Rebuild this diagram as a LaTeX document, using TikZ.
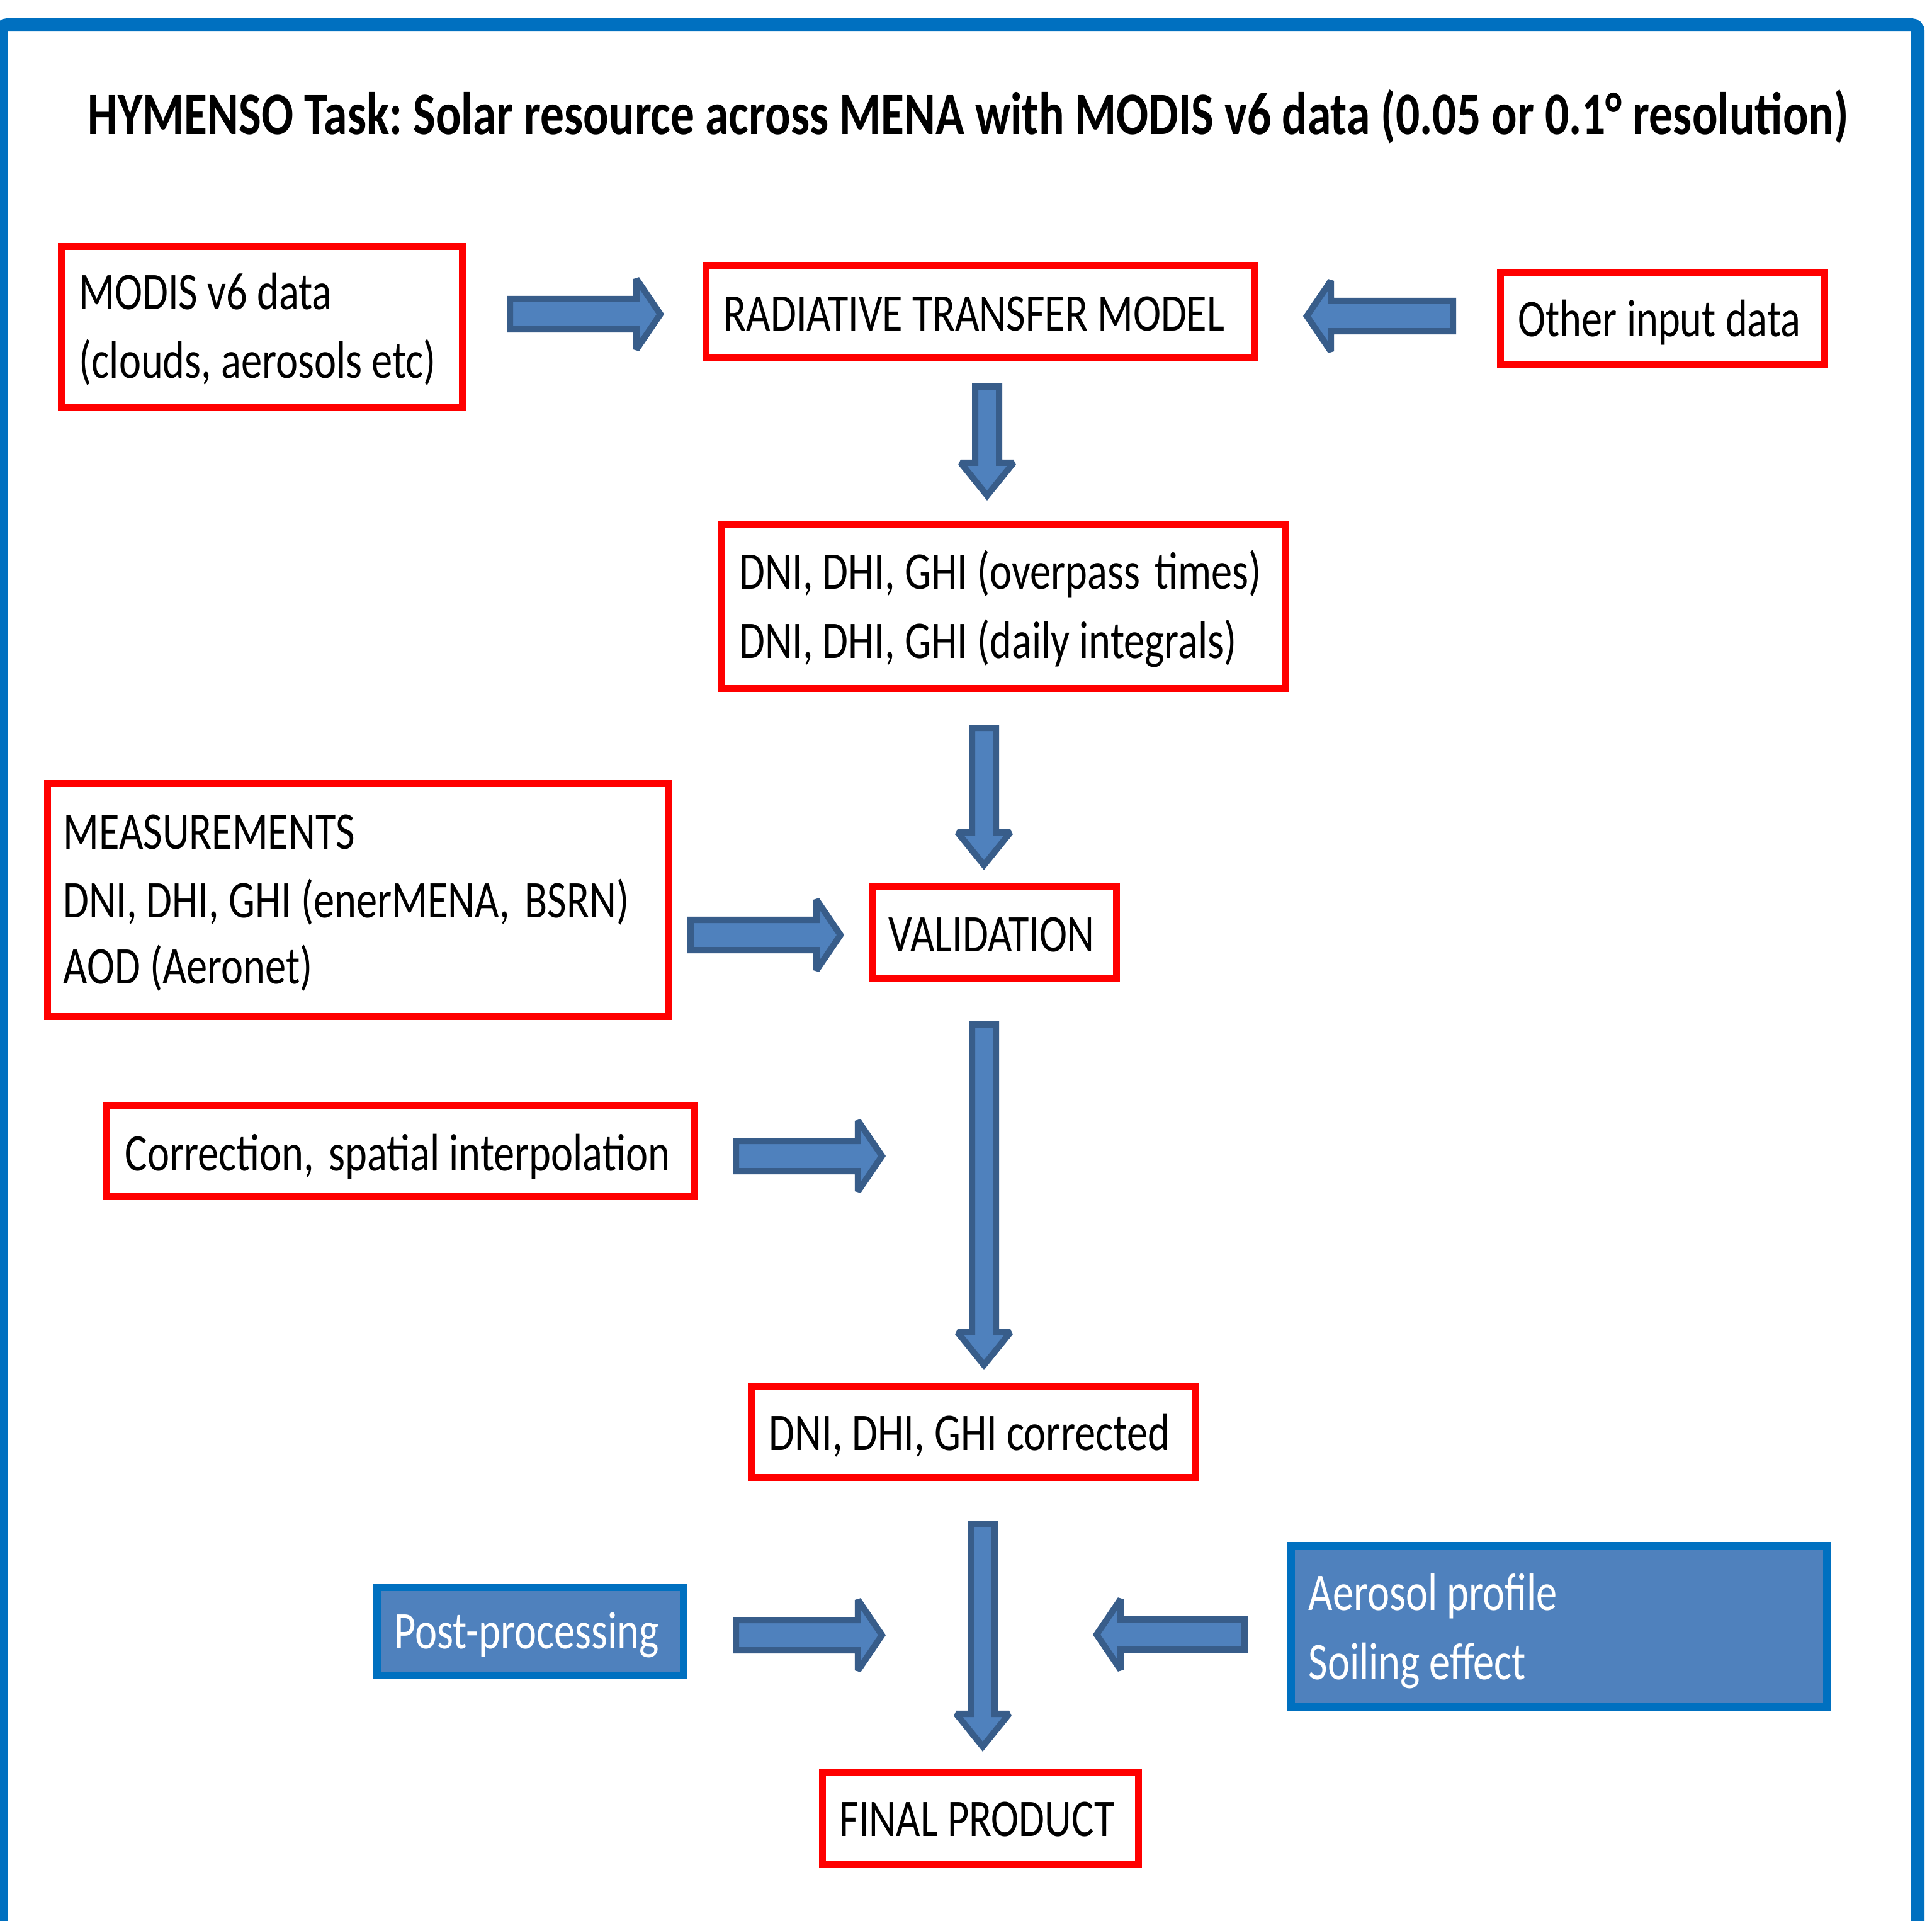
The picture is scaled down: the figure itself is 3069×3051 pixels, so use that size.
\documentclass[tikz,border=0pt]{standalone}
\usepackage{fontspec}
\setmainfont{Carlito}[FakeStretch=0.79]
\usetikzlibrary{calc}
\frenchspacing
\definecolor{framecol}{HTML}{0070C0}
\definecolor{arrfill}{HTML}{4F81BD}
\definecolor{arrline}{HTML}{385D8A}
\definecolor{boxred}{HTML}{FF0000}
\tikzset{
  redbox/.style={draw=boxred, line width=0.11cm, fill=white, inner sep=0pt, rectangle},
  bluebox/.style={draw=framecol, line width=0.12cm, fill=arrfill, inner sep=0pt, rectangle},
  txt/.style={inner sep=0pt, anchor=base west, font=\fontsize{23.9pt}{31pt}\selectfont},
  wtxt/.style={txt, text=white},
  blockarr/.style={draw=arrline, fill=arrfill, line width=0.10cm, line join=miter, miter limit=2.2},
}
\newcommand\wsp{\ \hspace{0.1em}}
% block arrow from #1 to #2: shaft half width #3, head half width #4, head length #5
\newcommand\blockarrow[5]{%
  \coordinate (ba-h) at ($(#2)!#5!(#1)$);
  \draw[blockarr] ($(#1)!#3!90:(#2)$) -- ($(ba-h)!#3!90:(#2)$) -- ($(ba-h)!#4!90:(#2)$)
    -- (#2) -- ($(ba-h)!#4!-90:(#2)$) -- ($(ba-h)!#3!-90:(#2)$) -- ($(#1)!#3!-90:(#2)$) -- cycle;}
\begin{document}
\begin{tikzpicture}[x=0.01cm, y=-0.01cm]
\useasboundingbox (0,0) rectangle (3069,3051);
\begin{scope}
\clip (0,0) rectangle (3069,3051);
\fill[white] (0,0) rectangle (3069,3051);
\draw[framecol, line width=0.21cm, rounded corners=0.1cm] (1.5,3120) -- (1.5,39.5) -- (3046.5,39.5) -- (3046.5,3120);
\end{scope}

% title
\node[inner sep=0pt, anchor=base, font=\fontsize{27.2pt}{33pt}\selectfont\bfseries] (title) at (1538,213)
  {HYMENSO Task: Solar resource across MENA with MODIS v6 data (0.05 or 0.1° resolution)};

% boxes
\node[redbox, minimum width=6.37cm, minimum height=2.55cm] (modis) at (416,519) {};
\node[txt] (modis-a) at (125,491) {MODIS v6 data};
\node[txt] (modis-b) at (125,600) {(clouds, aerosols etc)};

\node[redbox, minimum width=8.71cm, minimum height=1.47cm] (rtm) at (1557,495) {};
\node[txt] (rtm-a) at (1149,525) {RADIATIVE TRANSFER MODEL};

\node[redbox, minimum width=5.15cm, minimum height=1.47cm] (other) at (2641,506) {};
\node[txt] (other-a) at (2411,534) {Other input data};

\node[redbox, minimum width=8.95cm, minimum height=2.61cm] (dni) at (1594,963) {};
\node[txt] (dni-a) at (1174,935) {DNI, DHI, GHI (overpass\wsp times)};
\node[txt] (dni-b) at (1174,1045) {DNI, DHI, GHI (daily integrals)};

\node[redbox, minimum width=9.86cm, minimum height=3.70cm] (meas) at (568.5,1429.5) {};
\node[txt] (meas-a) at (100,1348) {MEASUREMENTS};
\node[txt] (meas-b) at (100,1457) {DNI, DHI, GHI (enerMENA,\wsp BSRN)};
\node[txt] (meas-c) at (100,1562) {AOD (Aeronet)};

\node[redbox, minimum width=3.88cm, minimum height=1.46cm] (val) at (1579.5,1481.5) {};
\node[txt] (val-a) at (1411,1511) {VALIDATION};

\node[redbox, minimum width=9.33cm, minimum height=1.45cm] (corr) at (636,1828) {};
\node[txt] (corr-a) at (198,1859) {Correction,\wsp spatial interpolation};

\node[redbox, minimum width=7.05cm, minimum height=1.45cm] (cor2) at (1546,2274) {};
\node[txt] (cor2-a) at (1221,2303) {DNI, DHI, GHI corrected};

\node[bluebox, minimum width=4.87cm, minimum height=1.40cm] (post) at (842.5,2591) {};
\node[wtxt] (post-a) at (626,2618) {Post-processing};

\node[bluebox, minimum width=8.51cm, minimum height=2.56cm] (aer) at (2476.5,2583) {};
\node[wtxt] (aer-a) at (2078,2557) {Aerosol profile};
\node[wtxt] (aer-b) at (2078,2667) {Soiling effect};

\node[redbox, minimum width=5.02cm, minimum height=1.46cm] (final) at (1557.5,2888.5) {};
\node[txt] (final-a) at (1333,2916) {FINAL PRODUCT};

% block arrows
\coordinate (a1s) at (810,499);   \coordinate (a1e) at (1049,499);
\coordinate (a2s) at (2308,502);  \coordinate (a2e) at (2076,502);
\coordinate (a3s) at (1097,1485); \coordinate (a3e) at (1335,1485);
\coordinate (a4s) at (1169,1836); \coordinate (a4e) at (1401,1836);
\coordinate (a5s) at (1169,2597); \coordinate (a5e) at (1401,2597);
\coordinate (a6s) at (1977,2596); \coordinate (a6e) at (1742,2596);
\blockarrow{a1s}{a1e}{0.24cm}{0.56cm}{0.38cm}
\blockarrow{a2s}{a2e}{0.24cm}{0.56cm}{0.38cm}
\blockarrow{a3s}{a3e}{0.24cm}{0.56cm}{0.38cm}
\blockarrow{a4s}{a4e}{0.24cm}{0.56cm}{0.38cm}
\blockarrow{a5s}{a5e}{0.24cm}{0.56cm}{0.38cm}
\blockarrow{a6s}{a6e}{0.24cm}{0.56cm}{0.38cm}

\coordinate (d1s) at (1568,614);  \coordinate (d1e) at (1568,787);
\coordinate (d2s) at (1563,1156); \coordinate (d2e) at (1563,1374);
\coordinate (d3s) at (1563,1627); \coordinate (d3e) at (1563,2168);
\coordinate (d4s) at (1561,2420); \coordinate (d4e) at (1561,2774);
\blockarrow{d1s}{d1e}{0.19cm}{0.42cm}{0.52cm}
\blockarrow{d2s}{d2e}{0.19cm}{0.42cm}{0.52cm}
\blockarrow{d3s}{d3e}{0.19cm}{0.42cm}{0.52cm}
\blockarrow{d4s}{d4e}{0.19cm}{0.42cm}{0.52cm}
\end{tikzpicture}
\end{document}
